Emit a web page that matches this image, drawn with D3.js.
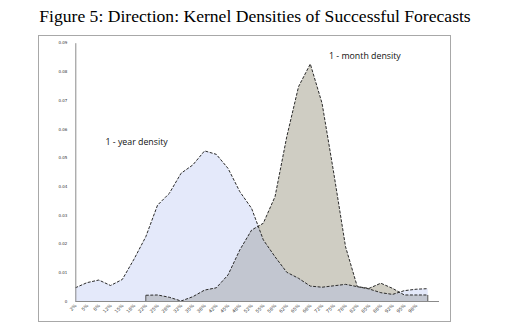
<!DOCTYPE html>
<html><head><meta charset="utf-8">
<script src="https://cdn.jsdelivr.net/npm/d3@7"></script>
<style>body{margin:0;background:#fff}svg{display:block}</style>
</head><body>
<svg id="c" width="511" height="333"></svg>
<script>
const xLabels = ["2%","5%","8%","12%","15%","18%","22%","25%","28%","32%","35%","38%","42%","45%","48%","52%","55%","58%","62%","65%","68%","72%","75%","78%","82%","85%","88%","92%","95%","98%"];
const yearDensity = [0.0046,0.0064,0.0073,0.0054,0.0075,0.0146,0.0224,0.0334,0.0375,0.0445,0.0474,0.0523,0.0511,0.0462,0.0381,0.0323,0.0213,0.0154,0.0100,0.0079,0.0052,0.0048,0.0053,0.0058,0.0050,0.0042,0.0029,0.0023,0.0036,0.0041,0.0043];
const monthDensity = [null,null,null,null,null,null,0.0020,0.0021,0.0013,0.0000,0.0015,0.0038,0.0046,0.0091,0.0178,0.0247,0.0271,0.0364,0.0573,0.0747,0.0826,0.0689,0.0445,0.0189,0.0050,0.0044,0.0062,0.0044,0.0021,0.0021,0.0021];
const yTicks = [0,0.01,0.02,0.03,0.04,0.05,0.06,0.07,0.08,0.09];
const yTickLabels = ["0","0.01","0.02","0.03","0.04","0.05","0.06","0.07","0.08","0.09"];

const svg = d3.select("#c");
const idx = d3.range(yearDensity.length);
const x = d3.scalePoint().domain(idx).range([75.3, 427.8]);
const y = d3.scaleLinear().domain([0, 0.09]).range([301, 42.7]);

svg.append("text").attr("x", 255).attr("y", 22).attr("text-anchor", "middle")
  .attr("font-family", "Liberation Serif, serif").attr("font-size", 17.6).attr("fill", "#000")
  .text("Figure 5: Direction: Kernel Densities of Successful Forecasts");

// frame
svg.append("rect").attr("x", 38.5).attr("y", 35.5).attr("width", 412).attr("height", 286)
  .attr("fill", "none").attr("stroke", "#a8a8a8").attr("stroke-width", 1);

const area = d3.area().defined(d => d.v != null).x(d => x(d.i)).y0(y(0)).y1(d => y(d.v));
const line = d3.line().defined(d => d.v != null).x(d => x(d.i)).y(d => y(d.v));

const mData = monthDensity.map((v, i) => ({i, v}));
const yData = yearDensity.map((v, i) => ({i, v}));

svg.append("path").datum(mData).attr("d", area).attr("fill", "#cfcdc3");
svg.append("path").datum(yData).attr("d", area).attr("fill", "rgba(165,182,238,0.30)");

// outlines
const mStart = mData.find(d => d.v != null);
const mEnd = mData[mData.length - 1];
svg.append("path").datum(mData).attr("d", line).attr("fill", "none")
  .attr("stroke", "#2a2a2a").attr("stroke-width", 1).attr("stroke-dasharray", "3,1.5");
svg.append("line").attr("x1", x(mStart.i)).attr("x2", x(mStart.i)).attr("y1", y(0)).attr("y2", y(mStart.v))
  .attr("stroke", "#555").attr("stroke-width", 1);
svg.append("line").attr("x1", x(mEnd.i)).attr("x2", x(mEnd.i)).attr("y1", y(0)).attr("y2", y(mEnd.v))
  .attr("stroke", "#555").attr("stroke-width", 1);
svg.append("path").datum(yData).attr("d", line).attr("fill", "none")
  .attr("stroke", "#2a2a2a").attr("stroke-width", 1).attr("stroke-dasharray", "3,1.5");

// axes
const yAxis = d3.axisLeft(y).tickValues(yTicks).tickSize(0).tickPadding(8).tickFormat((d, i) => yTickLabels[i]);
const gy = svg.append("g").attr("transform", "translate(75.3,0)").call(yAxis);
gy.select(".domain").attr("stroke", "#8a8a8a");
gy.selectAll("text").attr("font-size", 4).attr("font-family", "DejaVu Sans, sans-serif").attr("fill", "#333");

const xAxis = d3.axisBottom(x).tickValues(idx.slice(0, xLabels.length)).tickSize(0).tickFormat(i => xLabels[i]);
const gx = svg.append("g").attr("transform", "translate(0,301)").call(xAxis);
gx.select(".domain").attr("d", "M75.3,0.5H439").attr("stroke", "#8a8a8a");
gx.selectAll("text").attr("font-size", 4.6).attr("font-family", "DejaVu Sans, sans-serif").attr("fill", "#444")
  .attr("text-anchor", "end").attr("dy", 0).attr("y", 0)
  .attr("transform", "translate(1,5) rotate(-45)");

svg.append("text").attr("x", 105.5).attr("y", 145).attr("font-family", "Open Sans, sans-serif")
  .attr("font-size", 8.8).attr("fill", "#111").text("1 - year density");
svg.append("text").attr("x", 329).attr("y", 59).attr("font-family", "Open Sans, sans-serif")
  .attr("font-size", 8.8).attr("fill", "#111").text("1 - month density");
</script>
</body></html>
